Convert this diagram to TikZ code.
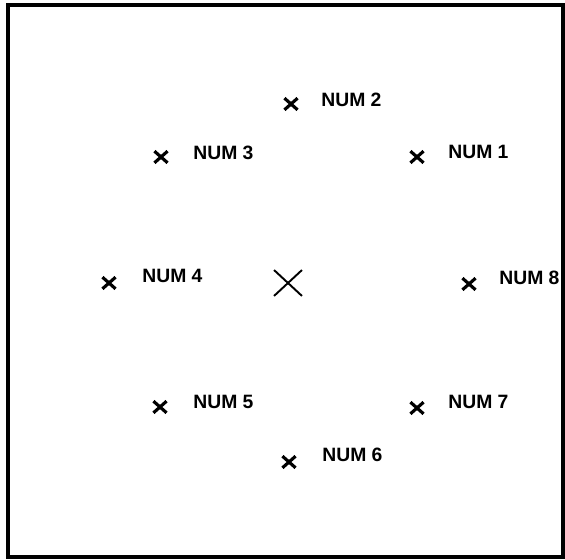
\documentclass[tikz,border=0pt]{standalone}
\usepackage{fontspec}
\setmainfont{Liberation Sans}
\usetikzlibrary{positioning,shapes.misc}

\tikzset{
  smallx/.style={cross out, draw, line width=1.8pt, minimum width=0.2cm, minimum height=0.17cm, inner sep=0pt},
  bigx/.style={cross out, draw, line width=1.1pt, minimum width=0.52cm, minimum height=0.48cm, inner sep=0pt},
  numlbl/.style={anchor=west, inner sep=0pt, font=\bfseries\fontsize{11}{13}\selectfont}
}

\begin{document}
\begin{tikzpicture}[x=0.02cm,y=-0.02cm]
      \useasboundingbox (0,0) rectangle (565,560);
      \draw[line width=2.1pt] (8,5) rectangle (563,557);   % frame

      % centre
      \node[bigx] (centre) at (288,283) {};

      % ring of points
      \node[smallx] (p1) at (417,157) {};
      \node[smallx] (p2) at (291,104) {};
      \node[smallx] (p3) at (161,157) {};
      \node[smallx] (p4) at (109,283) {};
      \node[smallx] (p5) at (160,407) {};
      \node[smallx] (p6) at (289,462) {};
      \node[smallx] (p7) at (417,408) {};
      \node[smallx] (p8) at (469,284) {};

      % labels
      \node[numlbl] (l1) at (448,152) {NUM 1};
      \node[numlbl] (l2) at (321,100) {NUM 2};
      \node[numlbl] (l3) at (193,153) {NUM 3};
      \node[numlbl] (l4) at (142,276) {NUM 4};
      \node[numlbl] (l5) at (193,402) {NUM 5};
      \node[numlbl] (l6) at (322,455) {NUM 6};
      \node[numlbl] (l7) at (448,402) {NUM 7};
      \node[numlbl] (l8) at (499,278) {NUM 8};

    \end{tikzpicture}
\end{document}
